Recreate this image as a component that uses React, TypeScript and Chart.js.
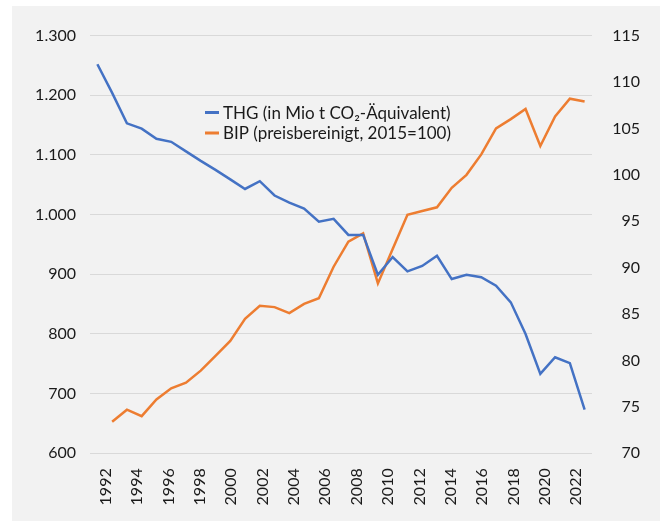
import React, { useEffect, useRef } from "react";
import { Chart, registerables } from "chart.js";

Chart.register(...registerables);

// Categories (data years)
const years = [
  "1990", "1991", "1992", "1993", "1994", "1995", "1996", "1997", "1998", "1999",
  "2000", "2001", "2002", "2003", "2004", "2005", "2006", "2007", "2008", "2009",
  "2010", "2011", "2012", "2013", "2014", "2015", "2016", "2017", "2018", "2019",
  "2020", "2021", "2022", "2023",
];

// Axis tick labels as printed in the chart
const tickLabels = [
  "1992", "1994", "1996", "1998", "2000", "2002", "2004", "2006",
  "2008", "2010", "2012", "2014", "2016", "2018", "2020", "2022",
];

const thgLabel = "THG (in Mio t CO\u2082-Äquivalent)";
const bipLabel = "BIP (preisbereinigt, 2015=100)";

const thgValues = [
  1252, 1204, 1153, 1144, 1127, 1122, 1106, 1090, 1075, 1059,
  1043, 1056, 1032, 1020, 1010, 988, 993, 966, 966, 899,
  929, 905, 914, 931, 892, 899, 895, 881, 853, 800,
  733, 761, 751, 673,
];

const bipValues = [
  null, 73.4, 74.7, 74.0, 75.8, 77.0, 77.6, 78.9, 80.5, 82.1,
  84.5, 85.9, 85.75, 85.1, 86.1, 86.7, 90.1, 92.8, 93.7, 88.3,
  92.0, 95.7, 96.1, 96.5, 98.6, 100.0, 102.2, 105.0, 106.0, 107.1,
  103.1, 106.3, 108.2, 107.9,
];

const FONT = "Lato";
const TEXT = "#1a1a1a";
const GRID = "#d9d9d9";

const legendPlugin = {
  id: "customLegend",
  afterDraw(chart: any) {
    const { ctx } = chart;
    ctx.save();
    ctx.font = `17px ${FONT}`;
    ctx.textBaseline = "middle";
    ctx.textAlign = "left";
    const x0 = 193;
    const y0 = 106.5;
    const row = 20.5;
    chart.data.datasets.forEach((ds: any, i: number) => {
      const y = y0 + i * row;
      ctx.strokeStyle = ds.borderColor;
      ctx.lineWidth = 3;
      ctx.beginPath();
      ctx.moveTo(x0, y);
      ctx.lineTo(x0 + 14, y);
      ctx.stroke();
      ctx.fillStyle = TEXT;
      ctx.fillText(ds.label, x0 + 18, y + 1);
    });
    ctx.restore();
  },
};

export default function App() {
  const ref = useRef<HTMLCanvasElement | null>(null);

  useEffect(() => {
    if (!ref.current) return;
    const chart = new Chart(ref.current, {
      type: "line",
      data: {
        labels: years,
        datasets: [
          {
            label: thgLabel,
            data: thgValues,
            borderColor: "#4472C4",
            backgroundColor: "#4472C4",
            borderWidth: 2.5,
            pointRadius: 0,
            tension: 0,
            yAxisID: "y",
            xAxisID: "x",
          },
          {
            label: bipLabel,
            data: bipValues,
            borderColor: "#ED7D31",
            backgroundColor: "#ED7D31",
            borderWidth: 2.5,
            pointRadius: 0,
            tension: 0,
            yAxisID: "y2",
            xAxisID: "x",
          },
        ],
      },
      options: {
        animation: false,
        responsive: true,
        maintainAspectRatio: false,
        layout: { padding: { top: 26.5, left: 0, right: 20, bottom: 0 } },
        plugins: {
          legend: { display: false },
          tooltip: { enabled: false },
        },
        scales: {
          x: {
            type: "category",
            display: false,
            offset: true,
            grid: { display: false },
          },
          x2: {
            type: "category",
            position: "bottom",
            labels: tickLabels,
            offset: true,
            grid: { display: false, drawTicks: false },
            border: { display: false },
            ticks: {
              minRotation: 90,
              maxRotation: 90,
              autoSkip: false,
              padding: 15,
              color: TEXT,
              font: { family: FONT, size: 16 },
            },
            afterFit(scale: any) {
              scale.height = 67.7;
            },
          },
          y: {
            position: "left",
            min: 600,
            max: 1300,
            grid: { color: GRID, lineWidth: 1, drawTicks: false },
            border: { display: false },
            ticks: {
              stepSize: 100,
              padding: 14,
              color: TEXT,
              font: { family: FONT, size: 16 },
              callback: (v: any) => Number(v).toLocaleString("de-DE"),
            },
            afterFit(scale: any) {
              scale.width = 78;
            },
          },
          y2: {
            position: "right",
            min: 70,
            max: 115,
            grid: { display: false, drawTicks: false },
            border: { display: false },
            ticks: {
              stepSize: 5,
              padding: 20,
              crossAlign: "far",
              color: TEXT,
              font: { family: FONT, size: 16 },
            },
            afterFit(scale: any) {
              scale.width = 48;
            },
          },
        },
      },
      plugins: [legendPlugin],
    });
    return () => chart.destroy();
  }, []);

  return (
    <div style={{ position: "absolute", left: 0, top: 0, width: 660, height: 521, background: "#ffffff" }}>
      <div style={{ position: "absolute", left: 12, top: 6, width: 648, height: 515, background: "#f2f2f2" }}>
        <canvas ref={ref} />
      </div>
    </div>
  );
}
